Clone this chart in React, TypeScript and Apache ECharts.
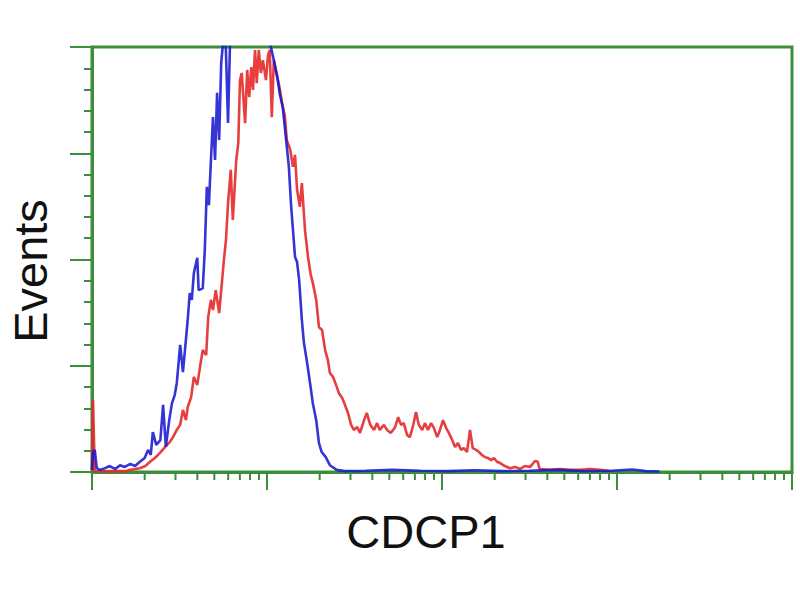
import React, { useEffect, useRef } from "react";
import * as echarts from "echarts";

// Histogram channels (0-1023, 4-decade log) and event counts
const blueSeries: [number, number][] = [
  [0, 0.5], [1.5, 4.7], [4, 5.2], [7, 0.9], [12, 0.5], [19, 0.9], [26, 1.4], [34, 0.7], [41, 1.6], [48, 1.2],
  [56, 1.9], [63, 1.4], [70, 2.4], [77, 3.3], [82, 5.2], [86, 4.0], [89, 9.4], [94, 6.4], [100, 7.5], [104, 15.8],
  [108, 5.9], [113, 12.2], [117, 16.2], [121, 18.1], [124, 20.9], [129, 29.9], [133, 23.5], [136, 28.7], [140, 35.8],
  [143, 42.1], [146, 40.5], [149, 46.8], [154, 50.4], [156, 42.8], [162, 43.2], [165, 52.2], [168, 67.1], [171, 62.8],
  [174, 73.4], [177, 83.5], [180, 73.4], [183, 89.2], [186, 78.1], [189, 96.2], [192, 101.6], [195, 104], [199, 82.1],
  [203, 108], [215, 112], [230, 110], [245, 106], [257, 103], [262, 99.8], [266, 96.9], [271, 92.9], [275, 88.7],
  [279, 85.9], [284, 78.1], [288, 71.8], [291, 63.3], [294, 56.9], [297, 50.6], [300, 49.4], [303, 45.2], [307, 35.8],
  [310, 30.4], [314, 26.4], [319, 20.9], [323, 16.2], [328, 12.2], [332, 6.8], [336, 4.7], [342, 3.5], [348, 1.6],
  [358, 0.5], [370, 0.2], [400, 0.3], [440, 0.5], [480, 0.3], [520, 0.2], [560, 0.4], [600, 0.2], [640, 0.3],
  [680, 0.5], [720, 0.2], [760, 0.3], [790, 0.6], [800, 0.4], [810, 0.2], [830, 0.1],
];

const redSeries: [number, number][] = [
  [0, 0.2], [1.5, 16.9], [4, 0.2], [12, 0.2], [48, 0.2], [56, 0.5], [70, 0.9], [78, 1.4], [85, 2.4], [92, 3.3],
  [99.5, 4.5], [107, 5.9], [114, 7.1], [118.5, 8.2], [124, 9.9], [129, 11.1], [133, 14.6], [137.5, 12.2], [140, 15.3],
  [145, 17.6], [149, 22.4], [154, 20.5], [158, 24.7], [162, 28.7], [167, 27.5], [170, 36.5], [174, 40.5], [177, 38.1],
  [181, 42.8], [186, 37.4], [190, 44.5], [193, 49.9], [196, 54.6], [199, 63.3], [203, 71.1], [206, 59.3], [211, 73.4],
  [214, 77.4], [216.5, 92.2], [219, 93.9], [224, 82.1], [227, 94.6], [230, 88.2], [233, 95.3], [235.5, 89.9],
  [238.5, 99.3], [241, 91.5], [244, 99.3], [247, 93.9], [250, 96.9], [254.5, 92.2], [257.5, 98.1], [260, 99.3],
  [263, 83.5], [266, 96.9], [270.6, 93.4], [275, 89.9], [279, 85.9], [282, 84], [285, 78.1], [290, 75.8], [294, 71.8],
  [297, 74.6], [300, 66.4], [304, 62.4], [307, 68], [311.6, 56.9], [316, 50.6], [320, 46.4], [323, 44.5], [328, 40.5],
  [332, 34.1], [336.5, 33.4], [341, 28.7], [345, 26.4], [348, 23.3], [352.6, 22.4], [357, 20.5], [361, 18.6],
  [366, 17.4], [370, 15.8], [374.5, 13.9], [379, 11.1], [383, 9.9], [388, 10.6], [392, 9.2], [398, 12.2], [402, 13.9],
  [407, 11.1], [412.5, 9.9], [417, 11.5], [421, 9.9], [427, 11.1], [431.6, 9.9], [437, 9.2], [443, 10.4], [448, 12.9],
  [452, 11.1], [456, 11.5], [461, 8.7], [465, 8.2], [470, 11.1], [474, 14.1], [478, 11.1], [483, 9.9], [487, 11.5],
  [491.5, 9.9], [496, 11.5], [500, 10.4], [505, 8.2], [509, 9.9], [513.5, 12.2], [518, 10.4], [522, 9.2], [527, 7.5],
  [531, 5.9], [535.4, 6.8], [540, 5.2], [544, 5.6], [548.6, 4.7], [553, 9.9], [557, 5.6], [562, 5.2], [566, 4.7],
  [570.5, 4], [575, 3.5], [579, 3.3], [584, 2.8], [588, 3.3], [592.5, 2.4], [597, 2.1], [604, 1.4], [611.5, 0.9],
  [619, 1.2], [626, 0.7], [633, 1.4], [641, 1.2], [648, 2.6], [652, 2.4], [655, 0.7], [670, 0.5], [685, 0.7],
  [699, 0.5], [714, 0.5], [728.5, 0.7], [743, 0.5], [758, 0.2],
];

// Log-axis minor tick positions (2..9 within each decade)
const tickMantissas = [2, 3, 4, 5, 6, 7, 8, 9];
const tickDecades = [1, 10, 100, 1000];

const xTitle = "CDCP1";
const yTitle = "Events";

const GREEN = "#3c8e3c";
const BLUE = "#1818d2";
const RED = "#e42a2a";

export default function App() {
  const ref = useRef<HTMLDivElement>(null);

  useEffect(() => {
    if (!ref.current) return;
    const chart = echarts.init(ref.current, undefined, { renderer: "svg" });
    const minorTicks: [number, number][] = [];
    tickDecades.forEach((d) => tickMantissas.forEach((m) => minorTicks.push([m * d, 0])));

    chart.setOption({
      animation: false,
      backgroundColor: "#ffffff",
      grid: {
        left: 92,
        right: 8,
        top: 47,
        bottom: 128,
        show: true,
        borderColor: GREEN,
        borderWidth: 3,
        backgroundColor: "transparent",
      },
      xAxis: [
        { type: "value", min: 0, max: 1024, show: false },
        {
          type: "log",
          logBase: 10,
          min: 1,
          max: 10000,
          position: "bottom",
          axisLine: { show: true, lineStyle: { color: GREEN, width: 3 } },
          axisTick: { show: true, length: 18, lineStyle: { color: GREEN, width: 2 } },
          axisLabel: { show: false },
          splitLine: { show: false },
          minorTick: { show: false },
        },
      ],
      yAxis: {
        type: "value",
        min: 0,
        max: 100,
        interval: 25,
        axisLine: { show: true, lineStyle: { color: GREEN, width: 3 } },
        axisTick: { show: true, length: 22, lineStyle: { color: GREEN, width: 2 } },
        minorTick: { show: true, splitNumber: 5, length: 8, lineStyle: { color: GREEN, width: 2 } },
        axisLabel: { show: false },
        splitLine: { show: false },
        minorSplitLine: { show: false },
      },
      series: [
        {
          type: "line",
          xAxisIndex: 0,
          yAxisIndex: 0,
          data: redSeries,
          symbol: "none",
          clip: true,
          lineStyle: { color: RED, width: 2.6, opacity: 0.9 },
          z: 2,
        },
        {
          type: "line",
          xAxisIndex: 0,
          yAxisIndex: 0,
          data: blueSeries,
          symbol: "none",
          clip: true,
          lineStyle: { color: BLUE, width: 2.6, opacity: 0.88 },
          z: 3,
        },
        {
          type: "custom",
          xAxisIndex: 1,
          yAxisIndex: 0,
          data: minorTicks,
          encode: { x: 0, y: 1 },
          z: 5,
          silent: true,
          renderItem: (params: any, api: any) => {
            const p = api.coord([api.value(0), 0]);
            return {
              type: "line",
              shape: { x1: p[0], y1: p[1], x2: p[0], y2: p[1] + 8 },
              style: { stroke: GREEN, lineWidth: 2 },
            };
          },
        },
      ],
      graphic: [
        {
          type: "text",
          x: 30,
          y: 271,
          rotation: Math.PI / 2,
          style: {
            text: yTitle,
            font: '47px "Liberation Sans", Arial, sans-serif',
            fill: "#111111",
            textAlign: "center",
            textVerticalAlign: "middle",
          },
        },
        {
          type: "text",
          x: 426,
          y: 531,
          style: {
            text: xTitle,
            font: '47px "Liberation Sans", Arial, sans-serif',
            fill: "#111111",
            textAlign: "center",
            textVerticalAlign: "middle",
          },
        },
      ],
    });
    return () => chart.dispose();
  }, []);

  return (
    <div
      ref={ref}
      style={{ position: "fixed", left: 0, top: 0, width: 800, height: 600, background: "#fff" }}
    />
  );
}
